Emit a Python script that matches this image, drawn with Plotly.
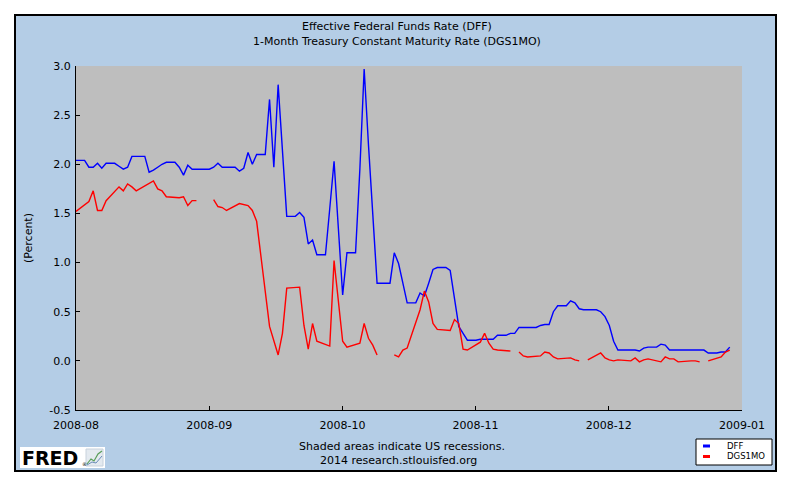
import pandas as pd
import plotly.graph_objects as go

# ---------------- data ----------------
dff_start = "2008-08-01"
dff_end = "2008-12-31"
dff_aug = [2.04, 2.04, 2.04, 1.97, 1.97, 2.01, 1.96, 2.01, 2.01, 2.01,
           1.98, 1.95, 1.97, 2.08, 2.08, 2.08, 2.08, 1.92, 1.94, 1.97,
           2.00, 2.02, 2.02, 2.02, 1.97, 1.89, 1.99, 1.95, 1.95, 1.95, 1.95]
dff_sep = [1.95, 1.97, 2.01, 1.97, 1.97, 1.97, 1.97, 1.93, 1.96, 2.12,
           2.00, 2.10, 2.10, 2.10, 2.66, 1.97, 2.81, 2.10, 1.47, 1.47,
           1.47, 1.51, 1.46, 1.19, 1.23, 1.08, 1.08, 1.08, 1.55, 2.03]
dff_oct = [1.35, 0.67, 1.10, 1.10, 1.10, 1.95, 2.97, 2.20, 1.45, 0.79,
           0.79, 0.79, 0.79, 1.10, 0.99, 0.79, 0.59, 0.59, 0.59, 0.69,
           0.66, 0.79, 0.93, 0.95, 0.95, 0.95, 0.92, 0.62, 0.35, 0.28, 0.21]
dff_nov = [0.21, 0.21, 0.22, 0.22, 0.22, 0.22, 0.26, 0.26, 0.26, 0.28,
           0.28, 0.34, 0.34, 0.34, 0.34, 0.34, 0.36, 0.37, 0.37, 0.50,
           0.56, 0.56, 0.56, 0.61, 0.59, 0.53, 0.52, 0.52, 0.52, 0.52]
dff_dec = [0.50, 0.45, 0.36, 0.20, 0.11, 0.11, 0.11, 0.11, 0.11, 0.10,
           0.13, 0.14, 0.14, 0.14, 0.17, 0.16, 0.11, 0.11, 0.11, 0.11,
           0.11, 0.11, 0.11, 0.11, 0.11, 0.08, 0.08, 0.08, 0.09, 0.09, 0.14]

# DGS1MO: one value per weekday, None on market holidays
dgs_aug = [1.52, 1.62, 1.73, 1.53, 1.53, 1.63, 1.77, 1.73, 1.80, 1.77, 1.73,
           1.80, 1.83, 1.75, 1.73, 1.67, 1.66, 1.67, 1.58, 1.63, 1.63]
dgs_sep = [None, 1.64, 1.57, 1.56, 1.53, 1.60, 1.59, 1.58, 1.53, 1.42,
           0.35, 0.21, 0.06, 0.28, 0.74, 0.75, 0.36, 0.12, 0.38, 0.20,
           0.15, 1.02]
dgs_oct = [0.60, 0.20, 0.14, 0.18, 0.38, 0.23, 0.16, 0.06, None, 0.06,
           0.04, 0.11, 0.13, 0.52, 0.71, 0.60, 0.38, 0.32, 0.31, 0.42,
           0.38, 0.12, 0.11]
dgs_nov = [0.19, 0.28, 0.18, 0.12, 0.11, 0.10, None, 0.09, 0.05, 0.04,
           0.05, 0.09, 0.08, 0.04, 0.02, 0.03, 0.01, 0.00, None, 0.01]
dgs_dec = [0.08, 0.03, 0.01, 0.00, 0.01, 0.00, 0.03, -0.01, 0.01, 0.02,
           -0.01, 0.04, 0.02, 0.02, -0.01, 0.00, 0.00, -0.01, None, 0.00,
           0.04, 0.09, 0.11]

x_tick_labels = ["2008-08", "2008-09", "2008-10", "2008-11", "2008-12", "2009-01"]
y_tick_vals = [-0.5, 0.0, 0.5, 1.0, 1.5, 2.0, 2.5, 3.0]
y_tick_text = ["-0.5", "0.0", "0.5", "1.0", "1.5", "2.0", "2.5", "3.0"]

title_lines = ["Effective Federal Funds Rate (DFF)",
               "1-Month Treasury Constant Maturity Rate (DGS1MO)"]
footer_lines = ["Shaded areas indicate US recessions.",
                "2014 research.stlouisfed.org"]
series_names = ["DFF", "DGS1MO"]

# ---------------- build ----------------
dff_dates = pd.date_range(dff_start, dff_end, freq="D")
dff_vals = dff_aug + dff_sep + dff_oct + dff_nov + dff_dec
dgs_dates = pd.bdate_range(dff_start, dff_end)
dgs_vals = dgs_aug + dgs_sep + dgs_oct + dgs_nov + dgs_dec

# the page body has an 8px margin: figure spans page px 8..784 x 8..479
OFF = 8
W, H = 776, 471
ML, MR, MT, MB = 68, 42, 58, 69
PW, PH = W - ML - MR, H - MT - MB


def px2x(px):  # page pixel -> paper x
    return (px - OFF - ML) / PW


def py2y(py):  # page pixel -> paper y
    return (H - MB - (py - OFF)) / PH


x_start = pd.Timestamp(dff_start)
x_end = x_start + pd.Timedelta(days=154.85)
span = x_end - x_start
tick_vals = [x_start + span * i / 5 for i in range(6)]

BLUE_PANEL = "#B4CDE6"
GRAY = "#BEBEBE"
FONT = "DejaVu Sans"

fig = go.Figure()
fig.add_trace(go.Scatter(x=dff_dates, y=dff_vals, mode="lines", name=series_names[0],
                         line=dict(color="#0000FF", width=1.4), connectgaps=False))
fig.add_trace(go.Scatter(x=dgs_dates, y=dgs_vals, mode="lines", name=series_names[1],
                         line=dict(color="#FF0000", width=1.4), connectgaps=False))

shapes = []
# white page border outside the blue panel
for x0, x1, y0, y1 in [(0, 15, 0, 487), (776, 792, 0, 487), (0, 792, 0, 15), (0, 792, 471, 487)]:
    shapes.append(dict(type="rect", xref="paper", yref="paper", layer="above",
                       x0=px2x(x0), x1=px2x(x1), y0=py2y(y1), y1=py2y(y0),
                       fillcolor="white", line=dict(width=0)))
shapes.append(dict(type="rect", xref="paper", yref="paper", layer="above",
                   x0=px2x(15), x1=px2x(776), y0=py2y(471), y1=py2y(15),
                   line=dict(color="black", width=2), fillcolor="rgba(0,0,0,0)"))
# legend box
legend_rows = [446, 456.5]
shapes.append(dict(type="rect", xref="paper", yref="paper", layer="above",
                   x0=px2x(696), x1=px2x(772), y0=py2y(465), y1=py2y(439),
                   line=dict(color="black", width=1), fillcolor="white"))
for col, py in zip(["#0000FF", "#FF0000"], legend_rows):
    shapes.append(dict(type="line", xref="paper", yref="paper", layer="above",
                       x0=px2x(703), x1=px2x(710), y0=py2y(py), y1=py2y(py),
                       line=dict(color=col, width=3)))
# FRED logo box
shapes.append(dict(type="rect", xref="paper", yref="paper", layer="above",
                   x0=px2x(20), x1=px2x(105), y0=py2y(468), y1=py2y(447),
                   line=dict(width=0), fillcolor="white"))
shapes.append(dict(type="rect", xref="paper", yref="paper", layer="above",
                   x0=px2x(86), x1=px2x(103), y0=py2y(466), y1=py2y(449),
                   line=dict(color="#C8D2DC", width=1), fillcolor="#E4EAF0"))
shapes.append(dict(type="path", xref="paper", yref="paper", layer="above",
                   path="M {} {} L {} {} L {} {} L {} {} L {} {}".format(
                       px2x(87), py2y(464), px2x(91), py2y(459), px2x(94), py2y(461),
                       px2x(98), py2y(454), px2x(102), py2y(451)),
                   line=dict(color="#5A9E5A", width=1.2)))
shapes.append(dict(type="path", xref="paper", yref="paper", layer="above",
                   path="M {} {} L {} {} L {} {} L {} {}".format(
                       px2x(87), py2y(465), px2x(92), py2y(462), px2x(96), py2y(463),
                       px2x(102), py2y(456)),
                   line=dict(color="#6A8CB8", width=1)))

ann = []
for txt, py in zip(title_lines, [26.5, 41]):
    ann.append(dict(text=txt, xref="paper", yref="paper", x=px2x(397), y=py2y(py),
                    xanchor="center", yanchor="middle", showarrow=False,
                    font=dict(family=FONT, size=11, color="black")))
for txt, px, py in zip(footer_lines, [402, 398], [446, 460.5]):
    ann.append(dict(text=txt, xref="paper", yref="paper", x=px2x(px), y=py2y(py),
                    xanchor="center", yanchor="middle", showarrow=False,
                    font=dict(family=FONT, size=11, color="black")))
ann.append(dict(text="(Percent)", xref="paper", yref="paper", x=px2x(28), y=py2y(238),
                xanchor="center", yanchor="middle", showarrow=False, textangle=-90,
                font=dict(family=FONT, size=11, color="black")))
for txt, py in zip(series_names, legend_rows):
    ann.append(dict(text=txt, xref="paper", yref="paper", x=px2x(725), y=py2y(py),
                    xanchor="left", yanchor="middle", showarrow=False,
                    font=dict(family=FONT, size=8.5, color="black")))
ann.append(dict(text="<b>FRED</b>", xref="paper", yref="paper", x=px2x(20), y=py2y(458),
                xanchor="left", yanchor="middle", showarrow=False,
                font=dict(family="DejaVu Sans", size=19, color="black")))
ann.append(dict(text="®", xref="paper", yref="paper", x=px2x(80), y=py2y(464),
                xanchor="left", yanchor="middle", showarrow=False,
                font=dict(family=FONT, size=5, color="black")))

fig.update_layout(
    width=W, height=H,
    margin=dict(l=ML, r=MR, t=MT, b=MB, pad=0),
    paper_bgcolor=BLUE_PANEL, plot_bgcolor=GRAY,
    showlegend=False,
    shapes=shapes, annotations=ann,
    font=dict(family=FONT, size=11, color="black"),
)
fig.update_xaxes(type="date", range=[x_start, x_end], tickmode="array",
                 tickvals=tick_vals, ticktext=x_tick_labels,
                 ticks="inside", ticklen=4, tickcolor="black", tickwidth=1,
                 ticklabelstandoff=5,
                 showline=True, linecolor="black", linewidth=1, mirror=False,
                 showgrid=False, zeroline=False, fixedrange=True,
                 tickfont=dict(family=FONT, size=11, color="black"))
fig.update_yaxes(range=[-0.5, 3.0], tickmode="array", tickvals=y_tick_vals,
                 ticktext=y_tick_text,
                 ticks="inside", ticklen=4, tickcolor="black", tickwidth=1,
                 ticklabelstandoff=2,
                 showline=True, linecolor="black", linewidth=1, mirror=False,
                 showgrid=False, zeroline=False, fixedrange=True,
                 tickfont=dict(family=FONT, size=11, color="black"))

fig.write_html("out.html")
